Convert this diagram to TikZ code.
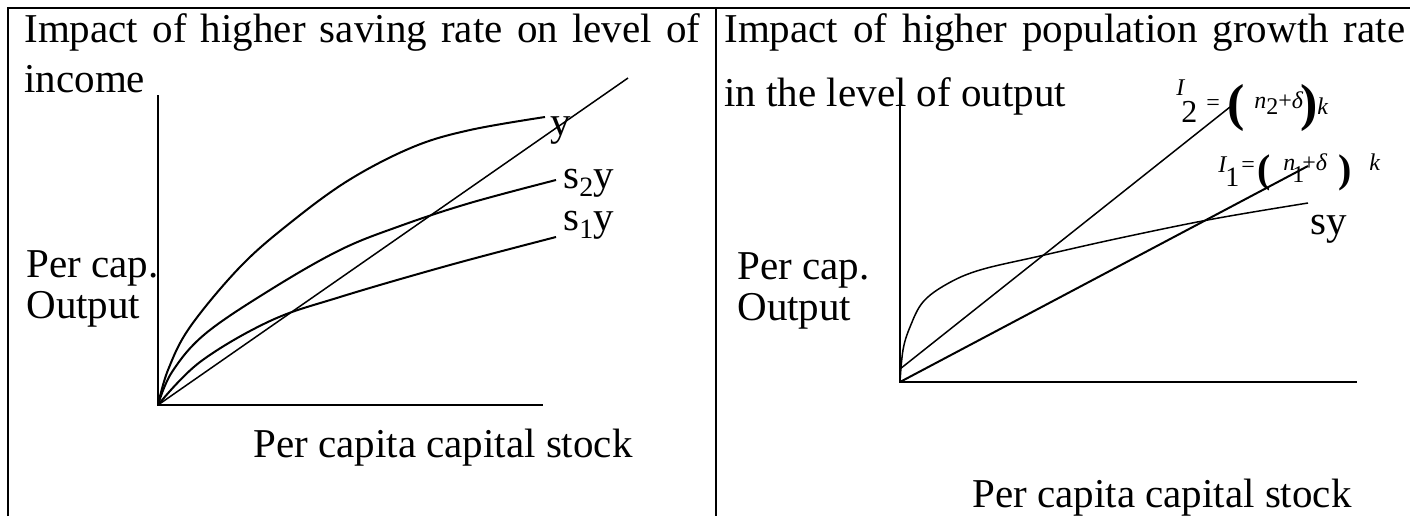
\documentclass[tikz,border=0pt]{standalone}
\usepackage{fontspec}
\setmainfont{Liberation Serif}
\usepackage{tikz}
\usetikzlibrary{positioning}

\begin{document}
\begin{tikzpicture}[
  x=0.5pt, y=-0.5pt,
  txt/.style={inner sep=0pt, anchor=base west, font=\fontsize{20.5}{24}\selectfont},
  eqn/.style={inner sep=0pt, anchor=base west, font=\fontsize{12}{12}\selectfont},
  axis/.style={line width=1.3pt},
  curve/.style={line width=1pt},
  ray/.style={line width=0.75pt}
]
\useasboundingbox (0,0) rectangle (1410,516);

% table frame
\coordinate (tl) at (8,8);
\coordinate (tr) at (1410,8);
\coordinate (bl) at (8,516);
\coordinate (mt) at (716,8);
\coordinate (mb) at (716,516);
\draw[line width=1pt] (bl) -- (tl) -- (tr);
\draw[line width=1pt] (mt) -- (mb);

% left panel: saving rate
\node[txt] (ttlA) at (24,42) {\makebox[338pt][s]{Impact of higher saving rate on level of}};
\node[txt] (ttlAb) at (24,92) {income};
\node[txt] (ylabA) at (26,277) {Per cap.};
\node[txt] (ylabAb) at (26,318) {Output};
\node[txt] (xlabA) at (253,457) {Per capita capital stock};

\coordinate (oA) at (158,405);
\coordinate (ytopA) at (158,95);
\coordinate (xendA) at (543,405);
\draw[axis] (ytopA) -- (oA) -- (xendA);

\draw[curve] plot[smooth, tension=0.6] coordinates {(158,405) (168,370) (190,327) (240,267) (290,223) (349,180) (413,147) (470,130) (545,117)};
\draw[curve] plot[smooth, tension=0.6] coordinates {(158,405) (172,372) (205,334) (270,290) (340,250) (400,226) (470,203) (556,180)};
\draw[curve] plot[smooth, tension=0.6] coordinates {(158,405) (200,362) (270,321) (340,297) (450,265) (556,237)};
\coordinate (rayA) at (628,78);
\draw[ray] (oA) -- (rayA);

\node[txt] (lblY) at (550,135) {y};
\node[txt] (lblS2) at (563,188) {s\raisebox{-4pt}{\fontsize{14}{14}\selectfont 2}y};
\node[txt] (lblS1) at (563,230) {s\raisebox{-4pt}{\fontsize{14}{14}\selectfont 1}y};

% right panel: population growth
\node[txt] (ttlB) at (724,42) {\makebox[340.5pt][s]{Impact of higher population growth rate}};
\node[txt] (ttlBb) at (724,106) {in the level of output};
\node[txt] (ylabB) at (737,279) {Per cap.};
\node[txt] (ylabBb) at (737,320) {Output};
\node[txt] (xlabB) at (972,507) {Per capita capital stock};

\coordinate (oB) at (900,382);
\coordinate (ytopB) at (900,98);
\coordinate (xendB) at (1357,382);
\draw[axis] (ytopB) -- (oB) -- (xendB);

\draw[ray] plot[smooth, tension=0.6] coordinates {(900,382) (903,350) (910,327) (923,302) (947,284) (980,270) (1040,256) (1120,238) (1213,219) (1308,203)};
\coordinate (sI2) at (900,369);
\coordinate (eI2) at (1230,107);
\draw[ray] (sI2) -- (eI2);
\coordinate (eI1) at (1308,166);
\draw[curve] (oB) -- (eI1);

\node[txt] (lblSy) at (1310,234) {sy};

% I2 label
\node[eqn] (iTwo) at (1176,95) {\textit{I}};
\node[eqn, font=\fontsize{16}{16}\selectfont] (iTwoSub) at (1181,122) {2};
\node[eqn] (eqTwo) at (1206,110) {=};
\node[eqn, font=\fontsize{26}{26}\selectfont\bfseries] (lpTwo) at (1227,120) {(};
\node[eqn] (nTwo) at (1254,108) {\textit{n}\raisebox{-3pt}{2}+\textit{δ}};
\node[eqn, font=\fontsize{26}{26}\selectfont\bfseries] (rpTwo) at (1300,120) {)};
\node[eqn] (kTwo) at (1317,114) {\textit{k}};

% I1 label
\node[eqn] (iOne) at (1218,172) {\textit{I}};
\node[eqn, font=\fontsize{14}{14}\selectfont] (iOneSub) at (1225,186) {1};
\node[eqn] (eqOne) at (1241,172) {=};
\node[eqn, font=\fontsize{20}{20}\selectfont\bfseries] (lpOne) at (1257,182) {(};
\node[eqn] (nOne) at (1283,170) {\textit{n}};
\node[eqn] (nOneSub) at (1292,182) {1};
\node[eqn] (pdOne) at (1302,170) {+\textit{δ}};
\node[eqn, font=\fontsize{20}{20}\selectfont\bfseries] (rpOne) at (1338,182) {)};
\node[eqn] (kOne) at (1369,170) {\textit{k}};

\end{tikzpicture}
\end{document}
